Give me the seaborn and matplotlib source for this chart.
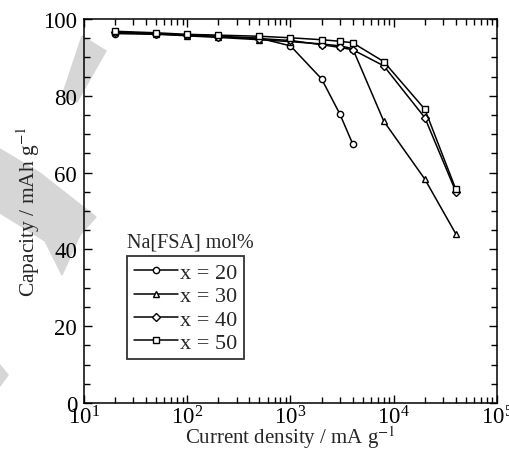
import numpy as np
import pandas as pd
import matplotlib
matplotlib.use('Agg')
import matplotlib.pyplot as plt
from matplotlib.patches import Polygon
from matplotlib.ticker import MultipleLocator, LogLocator, NullFormatter
import seaborn as sns

# data
current = [20, 50, 100, 200, 500, 1000, 2000, 3000, 4000, 8000, 20000, 40000]
cap_x20 = [96.2, 96.0, 95.8, 95.5, 95.0, 93.0, 84.4, 75.3, 67.5]
cap_x30 = [96.5, 96.1, 95.6, 95.2, 94.6, 94.1, 93.5, 93.0, 92.3, 73.4, 58.3, 44.0]
cap_x40 = [96.6, 96.2, 95.8, 95.4, 94.9, 94.4, 93.3, 92.6, 92.0, 87.8, 74.3, 55.0]
cap_x50 = [96.8, 96.4, 96.0, 95.8, 95.5, 95.1, 94.6, 94.2, 93.8, 88.9, 76.5, 55.6]
labels = ['x = 20', 'x = 30', 'x = 40', 'x = 50']

rows = []
for lab, cap in zip(labels, [cap_x20, cap_x30, cap_x40, cap_x50]):
    for c, v in zip(current, cap):
        rows.append({'current': c, 'capacity': v, 'series': lab})
df = pd.DataFrame(rows)

sns.set_style('ticks')
plt.rcParams['font.family'] = ['Liberation Serif', 'DejaVu Serif']
plt.rcParams['mathtext.fontset'] = 'stix'

fig = plt.figure(figsize=(5.1, 4.52), dpi=100)

# grey watermark behind everything
bg = fig.add_axes([0, 0, 1, 1], zorder=0)
bg.set_xlim(0, 510)
bg.set_ylim(452, 0)
bg.axis('off')
wm = '#d6d6d6'
bg.add_patch(Polygon([(82, 37), (106, 52), (77, 103), (62, 97)], color=wm))
bg.add_patch(Polygon([(0, 150), (40, 174), (96, 218), (80, 236), (62, 276),
                      (45, 242), (0, 214)], color=wm))
bg.add_patch(Polygon([(0, 366), (8, 376), (0, 387)], color=wm))

ax = fig.add_axes([0.1647, 0.1062, 0.8098, 0.8496], zorder=1)
ax.patch.set_alpha(0)

markers = {'x = 20': 'o', 'x = 30': '^', 'x = 40': 'D', 'x = 50': 's'}
sizes = {'x = 20': 6.5, 'x = 30': 7.5, 'x = 40': 6, 'x = 50': 8.5}
for lab in labels:
    sub = df[df.series == lab]
    sns.lineplot(data=sub, x='current', y='capacity', ax=ax, color='black',
                 marker=markers[lab], markersize=sizes[lab], markerfacecolor='white',
                 markeredgecolor='black', markeredgewidth=1.9 if lab == 'x = 50' else 0.9,
                 linewidth=1.1, label=lab)

ax.set_xscale('log')
ax.set_xlim(10, 1e5)
ax.set_ylim(0, 100)
ax.yaxis.set_major_locator(MultipleLocator(20))
ax.yaxis.set_minor_locator(MultipleLocator(5))
ax.xaxis.set_minor_locator(LogLocator(base=10, subs=np.arange(2, 10)))
ax.xaxis.set_minor_formatter(NullFormatter())
ax.tick_params(which='both', direction='in', top=True, right=True, width=1.0,
               labelsize=16.5, color='black', labelcolor='black')
ax.tick_params(which='major', length=6)
ax.tick_params(which='minor', length=4)
ax.tick_params(axis='x', pad=2)
ax.tick_params(axis='y', pad=5)
for s in ax.spines.values():
    s.set_linewidth(1.1)
    s.set_color('black')

ax.set_xlabel('Current density / mA g$^{-1}$', fontsize=15, labelpad=-4)
ax.set_ylabel('Capacity / mAh g$^{-1}$', fontsize=15.5, labelpad=1)

handles, labs = ax.get_legend_handles_labels()
for h in handles:
    h.set_markersize(4.5)
    h.set_markeredgewidth(1.0)
leg = ax.legend(handles, labs, loc='upper left', bbox_to_anchor=(0.104, 0.383),
                borderaxespad=0, frameon=True, fancybox=False, fontsize=16,
                handlelength=2.0, handletextpad=0.1, labelspacing=0.12,
                borderpad=0.3)
leg.get_frame().set_edgecolor('black')
leg.get_frame().set_linewidth(1.3)
ax.text(0.104, 0.395, 'Na[FSA] mol%', transform=ax.transAxes, fontsize=14.5,
        ha='left', va='bottom')

fig.savefig('out.png', dpi=100)
